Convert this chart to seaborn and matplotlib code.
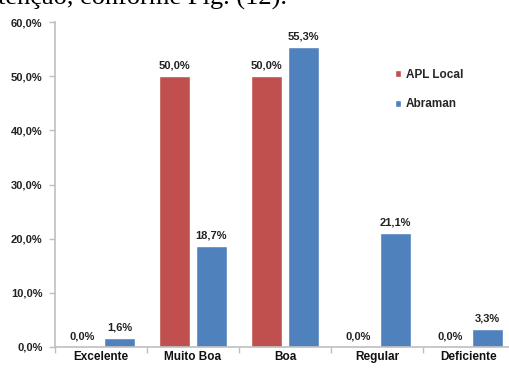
import matplotlib
matplotlib.use("Agg")
import matplotlib.pyplot as plt
import seaborn as sns
import pandas as pd
from matplotlib.ticker import FuncFormatter, FixedLocator
from matplotlib.patches import Patch

categories = ["Excelente", "Muito Boa", "Boa", "Regular", "Deficiente"]
apl_local = [0.0, 50.0, 50.0, 0.0, 0.0]
abraman = [1.6, 18.7, 55.3, 21.1, 3.3]
series_names = ["APL Local", "Abraman"]
colors = ["#C0504D", "#4F81BD"]
y_ticks = [0, 10, 20, 30, 40, 50, 60]

df = pd.DataFrame({
    "categoria": categories * 2,
    "valor": apl_local + abraman,
    "serie": [series_names[0]] * len(categories) + [series_names[1]] * len(categories),
})

sns.set_theme(style="white")
plt.rcParams["font.family"] = ["Liberation Sans", "DejaVu Sans"]

fig = plt.figure(figsize=(5.1, 3.7), dpi=100)
ax = fig.add_axes([55 / 510, 23 / 370, 460 / 510, 325 / 370])

sns.barplot(data=df, x="categoria", y="valor", hue="serie", order=categories,
            hue_order=series_names, palette=colors, width=0.8, gap=0.15,
            saturation=1, ax=ax, legend=False)

ax.set_ylim(0, 60)
ax.set_xlim(-0.5, 4.5)
ax.set_xlabel("")
ax.set_ylabel("")

ax.yaxis.set_major_locator(FixedLocator(y_ticks))
ax.yaxis.set_major_formatter(FuncFormatter(lambda v, _: f"{v:.1f}%".replace(".", ",")))
ax.set_xticks(range(len(categories)))
ax.set_xticklabels(categories)
ax.set_xticks([i - 0.5 for i in range(len(categories) + 1)], minor=True)

for side in ["top", "right"]:
    ax.spines[side].set_visible(False)
for side in ["left", "bottom"]:
    ax.spines[side].set_color("#BFBFBF")
    ax.spines[side].set_linewidth(1.2)

ax.tick_params(axis="y", which="major", left=True, length=4, width=1, color="#BFBFBF",
               labelsize=8, pad=5, labelcolor="#222222")
ax.tick_params(axis="x", which="major", bottom=True, length=0, labelsize=8.5, pad=3,
               labelcolor="#111111")
ax.tick_params(axis="x", which="minor", bottom=True, length=4, width=1, color="#BFBFBF")
for lbl in ax.get_yticklabels():
    lbl.set_fontweight("bold")
for lbl in ax.get_xticklabels():
    lbl.set_fontweight("bold")

# value labels above each bar
for container in ax.containers:
    ax.bar_label(container, labels=[f"{b.get_height():.1f}%".replace(".", ",") for b in container],
                 padding=4, fontsize=8, fontweight="bold", color="#222222")

handles = [Patch(facecolor=c, label=n) for c, n in zip(colors, series_names)]
fig.legend(handles=handles, loc="upper left", bbox_to_anchor=(384 / 510, 1 - 58 / 370),
           frameon=False, handlelength=0.55, handleheight=0.55,
           handletextpad=0.4, labelspacing=1.5, prop={"weight": "bold", "size": 8.5})

# running text from the surrounding page
fig.text(-2 / 510, 1 - 5 / 370, "tenção, conforme Fig. (12).", fontsize=19,
         family=["Liberation Serif", "DejaVu Serif"], va="baseline", ha="left", color="black")

fig.savefig("out.png", dpi=100)
